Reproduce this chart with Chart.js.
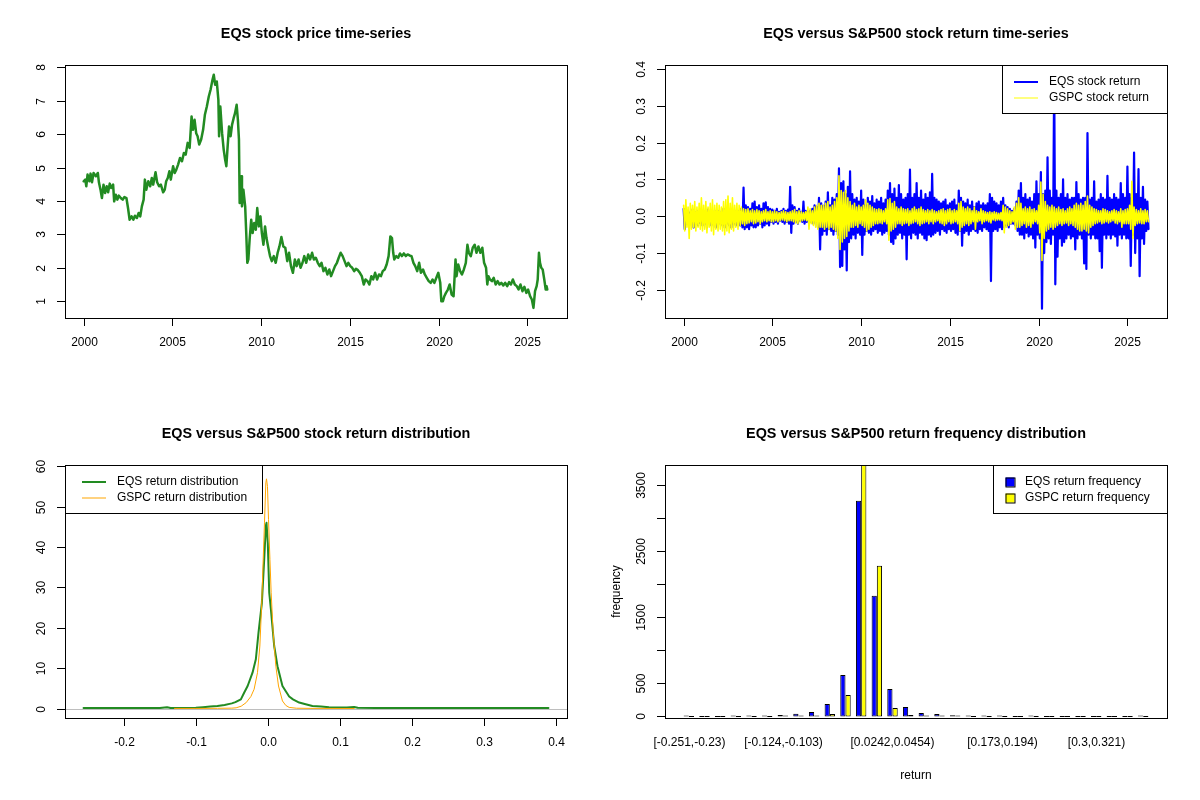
<!DOCTYPE html>
<html>
<head>
<meta charset="utf-8">
<title>EQS vs S&amp;P500</title>
<script src="https://cdn.jsdelivr.net/npm/chart.js@4.4.0/dist/chart.umd.min.js"></script>
<style>
  html, body { margin: 0; padding: 0; background: #fff; }
  #grid { display: grid; grid-template-columns: 600px 600px; grid-template-rows: 400px 400px; width: 1200px; height: 800px; }
  .panel { width: 600px; height: 400px; }
  canvas { display: block; }
</style>
</head>
<body>
<div id="grid">
  <div class="panel"><canvas id="priceChart" width="600" height="400"></canvas></div>
  <div class="panel"><canvas id="returnChart" width="600" height="400"></canvas></div>
  <div class="panel"><canvas id="densityChart" width="600" height="400"></canvas></div>
  <div class="panel"><canvas id="freqChart" width="600" height="400"></canvas></div>
</div>
<script>
// ---- EQS price ----
const priceYears = [
  2000.00,2000.09,2000.15,2000.22,2000.32,2000.39,2000.47,2000.56,2000.69,2000.80,2000.86,2000.95,
  2001.03,2001.12,2001.21,2001.30,2001.38,2001.47,2001.55,2001.66,2001.72,2001.81,2001.90,2001.98,
  2002.09,2002.20,2002.30,2002.41,2002.50,2002.59,2002.70,2002.80,2002.89,2003.00,2003.10,2003.19,
  2003.28,2003.38,2003.45,2003.53,2003.64,2003.75,2003.84,2003.92,2004.05,2004.14,2004.25,2004.35,
  2004.48,2004.57,2004.65,2004.74,2004.83,2004.91,2005.04,2005.13,2005.22,2005.32,2005.43,2005.54,
  2005.65,2005.75,2005.86,2005.97,2006.08,2006.16,2006.25,2006.34,2006.42,2006.51,2006.62,2006.73,
  2006.83,2006.94,2007.05,2007.15,2007.26,2007.33,2007.41,2007.50,2007.59,2007.63,2007.70,2007.80,
  2007.89,2007.97,2008.04,2008.10,2008.19,2008.28,2008.36,2008.45,2008.53,2008.62,2008.69,2008.75,
  2008.79,2008.88,2008.92,2009.00,2009.10,2009.16,2009.22,2009.28,2009.35,2009.44,2009.52,2009.61,
  2009.70,2009.78,2009.87,2009.96,2010.04,2010.13,2010.22,2010.30,2010.39,2010.50,2010.60,2010.71,
  2010.82,2010.93,2011.03,2011.14,2011.25,2011.36,2011.47,2011.57,2011.68,2011.79,2011.90,2012.00,
  2012.11,2012.22,2012.33,2012.43,2012.54,2012.65,2012.76,2012.87,2012.97,2013.08,2013.19,2013.30,
  2013.40,2013.51,2013.62,2013.73,2013.84,2013.94,2014.05,2014.16,2014.27,2014.37,2014.48,2014.59,
  2014.70,2014.81,2014.91,2015.02,2015.13,2015.24,2015.34,2015.45,2015.56,2015.67,2015.78,2015.88,
  2015.99,2016.10,2016.21,2016.31,2016.42,2016.53,2016.64,2016.75,2016.85,2016.96,2017.07,2017.18,
  2017.28,2017.37,2017.44,2017.50,2017.61,2017.72,2017.82,2017.93,2018.04,2018.15,2018.25,2018.36,
  2018.47,2018.58,2018.68,2018.79,2018.90,2019.00,2019.12,2019.22,2019.33,2019.44,2019.55,2019.66,
  2019.76,2019.87,2019.98,2020.09,2020.15,2020.24,2020.32,2020.41,2020.52,2020.62,2020.73,2020.84,
  2020.95,2021.01,2021.10,2021.21,2021.31,2021.42,2021.53,2021.62,2021.70,2021.81,2021.92,2022.03,
  2022.13,2022.24,2022.35,2022.46,2022.56,2022.67,2022.74,2022.80,2022.89,2023.00,2023.10,2023.21,
  2023.32,2023.43,2023.53,2023.64,2023.75,2023.86,2023.97,2024.07,2024.18,2024.29,2024.40,2024.50,
  2024.61,2024.72,2024.83,2024.94,2025.04,2025.15,2025.25,2025.34,2025.43,2025.52,2025.58,2025.65,
  2025.71,2025.78,2025.86,2025.95,2026.03,2026.08,2026.12
];
const priceValues = [
  4.59,4.64,4.44,4.79,4.59,4.82,4.56,4.84,4.74,4.84,4.56,4.34,
  4.09,4.49,4.24,4.44,4.26,4.52,4.39,4.49,3.99,4.19,4.04,4.16,
  4.09,4.04,4.12,4.09,3.79,3.44,3.54,3.44,3.56,3.49,3.64,3.54,
  3.84,4.04,4.64,4.34,4.59,4.44,4.69,4.49,4.86,4.56,4.44,4.49,
  4.26,4.34,4.59,4.69,4.89,4.64,5.04,4.84,4.94,5.09,5.29,5.19,
  5.44,5.39,5.74,5.59,6.53,6.13,6.43,6.03,5.94,5.69,5.84,6.13,
  6.58,6.83,7.13,7.33,7.63,7.78,7.48,7.58,7.03,5.94,6.83,6.03,
  5.54,5.24,5.04,5.54,6.23,5.94,6.28,6.48,6.63,6.88,6.43,5.84,
  3.94,4.74,3.84,4.34,3.84,3.04,2.15,2.25,2.84,3.44,3.04,3.34,
  3.14,3.79,3.24,3.54,3.04,2.69,3.24,2.89,2.64,2.35,2.20,2.35,
  2.15,2.45,2.64,2.92,2.64,2.60,2.20,2.45,2.05,1.85,2.25,2.05,
  2.25,2.00,2.15,2.35,2.15,2.40,2.25,2.45,2.25,2.30,2.15,2.05,
  2.15,1.90,2.00,1.80,1.95,1.75,1.90,2.05,2.15,2.30,2.45,2.35,
  2.20,2.05,2.15,2.05,2.00,1.90,1.97,1.93,1.85,1.75,1.50,1.65,
  1.60,1.50,1.75,1.65,1.85,1.65,1.80,1.75,1.90,1.95,2.10,2.35,
  2.94,2.89,2.45,2.25,2.35,2.30,2.43,2.35,2.43,2.35,2.40,2.37,
  2.35,2.15,2.05,1.90,2.15,1.85,1.95,1.80,1.70,1.60,1.55,1.65,
  1.55,1.70,1.85,1.55,1.00,1.00,1.15,1.25,1.35,1.50,1.20,1.15,
  2.25,1.75,2.10,1.90,1.80,1.95,2.15,2.69,2.45,2.35,2.60,2.69,
  2.45,2.64,2.45,2.60,2.15,2.00,1.50,1.75,1.65,1.60,1.70,1.50,
  1.60,1.50,1.55,1.47,1.55,1.45,1.57,1.50,1.65,1.50,1.45,1.35,
  1.50,1.30,1.43,1.25,1.35,1.15,1.05,0.80,1.30,1.45,1.65,2.45,
  2.15,2.00,1.95,1.65,1.35,1.45,1.35
];

// ---- daily returns, summarised as high / low per 1/8 year, starting 2000.0 ----
const retStart = 2000;
const retStep = 0.125;
const eqsHigh = [
  0.02,0.012,0.015,0.01,0.018,0.012,0.015,0.01,
  0.012,0.015,0.01,0.018,0.012,0.01,0.015,0.012,
  0.015,0.01,0.02,0.012,0.015,0.018,0.01,0.015,
  0.012,0.015,0.02,0.078,0.03,0.025,0.02,0.035,
  0.04,0.025,0.03,0.02,0.035,0.038,0.025,0.02,
  0.018,0.015,0.02,0.012,0.015,0.02,0.015,0.018,
  0.08,0.03,0.025,0.015,0.02,0.012,0.04,0.015,
  0.012,0.015,0.02,0.03,0.025,0.05,0.035,0.028,
  0.04,0.065,0.03,0.05,0.045,0.06,0.13,0.09,
  0.095,0.06,0.08,0.122,0.06,0.045,0.05,0.04,
  0.07,0.045,0.03,0.05,0.04,0.055,0.035,0.045,
  0.04,0.05,0.035,0.045,0.07,0.09,0.06,0.075,
  0.05,0.085,0.06,0.045,0.05,0.06,0.127,0.05,
  0.06,0.09,0.05,0.07,0.045,0.06,0.05,0.065,
  0.115,0.05,0.045,0.04,0.035,0.04,0.045,0.03,
  0.035,0.04,0.045,0.03,0.07,0.05,0.04,0.035,
  0.045,0.03,0.04,0.025,0.035,0.04,0.03,0.035,
  0.03,0.035,0.06,0.05,0.04,0.035,0.03,0.04,
  0.05,0.03,0.025,0.02,0.015,0.02,0.04,0.07,
  0.09,0.05,0.06,0.045,0.05,0.04,0.06,0.095,
  0.06,0.12,0.06,0.07,0.16,0.07,0.05,0.384,
  0.07,0.05,0.06,0.1,0.05,0.06,0.045,0.05,
  0.05,0.093,0.06,0.045,0.05,0.05,0.226,0.045,
  0.05,0.095,0.04,0.045,0.06,0.05,0.045,0.11,
  0.05,0.045,0.06,0.05,0.045,0.09,0.06,0.05,
  0.135,0.06,0.05,0.173,0.06,0.128,0.05,0.08,
  0.045,0.04
];
const eqsLow = [
  -0.035,-0.02,-0.025,-0.015,-0.03,-0.02,-0.025,-0.018,
  -0.025,-0.02,-0.03,-0.015,-0.025,-0.02,-0.03,-0.02,
  -0.02,-0.025,-0.03,-0.02,-0.025,-0.03,-0.02,-0.025,
  -0.02,-0.025,-0.03,-0.035,-0.03,-0.035,-0.025,-0.03,
  -0.03,-0.025,-0.02,-0.03,-0.025,-0.02,-0.025,-0.015,
  -0.02,-0.015,-0.02,-0.012,-0.015,-0.02,-0.015,-0.02,
  -0.045,-0.02,-0.015,-0.02,-0.012,-0.015,-0.02,-0.015,
  -0.012,-0.015,-0.02,-0.015,-0.03,-0.09,-0.05,-0.04,
  -0.05,-0.035,-0.04,-0.05,-0.04,-0.05,-0.138,-0.135,
  -0.09,-0.147,-0.07,-0.06,-0.05,-0.06,-0.045,-0.05,
  -0.105,-0.05,-0.04,-0.045,-0.05,-0.04,-0.035,-0.045,
  -0.04,-0.05,-0.045,-0.04,-0.05,-0.07,-0.075,-0.06,
  -0.05,-0.045,-0.06,-0.05,-0.117,-0.05,-0.06,-0.045,
  -0.05,-0.06,-0.045,-0.05,-0.06,-0.065,-0.05,-0.055,
  -0.05,-0.045,-0.04,-0.05,-0.035,-0.04,-0.045,-0.035,
  -0.04,-0.035,-0.045,-0.05,-0.04,-0.08,-0.045,-0.04,
  -0.05,-0.04,-0.035,-0.04,-0.045,-0.035,-0.04,-0.03,
  -0.035,-0.04,-0.176,-0.04,-0.035,-0.04,-0.03,-0.035,
  -0.03,-0.025,-0.03,-0.02,-0.02,-0.025,-0.04,-0.05,
  -0.05,-0.06,-0.045,-0.055,-0.05,-0.06,-0.085,-0.05,
  -0.06,-0.251,-0.1,-0.07,-0.06,-0.075,-0.05,-0.185,
  -0.11,-0.06,-0.08,-0.07,-0.06,-0.05,-0.06,-0.055,
  -0.09,-0.06,-0.05,-0.06,-0.128,-0.143,-0.05,-0.06,
  -0.05,-0.06,-0.06,-0.095,-0.14,-0.05,-0.06,-0.05,
  -0.06,-0.05,-0.055,-0.08,-0.05,-0.06,-0.05,-0.06,
  -0.06,-0.135,-0.05,-0.1,-0.06,-0.163,-0.06,-0.075,
  -0.04,-0.035
];
const gspcHigh = [
  0.03,0.045,0.025,0.035,0.03,0.04,0.025,0.035,
  0.05,0.03,0.04,0.025,0.035,0.045,0.03,0.035,
  0.03,0.025,0.04,0.045,0.055,0.035,0.05,0.03,
  0.035,0.03,0.025,0.02,0.018,0.02,0.015,0.018,
  0.015,0.018,0.015,0.012,0.015,0.018,0.012,0.015,
  0.012,0.015,0.012,0.01,0.012,0.015,0.012,0.01,
  0.012,0.015,0.018,0.012,0.015,0.012,0.01,0.012,
  0.025,0.02,0.015,0.025,0.03,0.035,0.03,0.03,
  0.035,0.04,0.025,0.03,0.04,0.05,0.11,0.07,
  0.065,0.07,0.05,0.04,0.03,0.035,0.025,0.03,
  0.025,0.03,0.045,0.035,0.03,0.025,0.02,0.018,
  0.02,0.018,0.015,0.02,0.045,0.048,0.035,0.04,
  0.025,0.02,0.025,0.02,0.018,0.02,0.015,0.02,
  0.025,0.018,0.02,0.025,0.018,0.015,0.018,0.015,
  0.018,0.015,0.012,0.015,0.018,0.02,0.015,0.018,
  0.02,0.015,0.018,0.015,0.035,0.04,0.025,0.02,
  0.025,0.02,0.015,0.025,0.015,0.012,0.02,0.015,
  0.012,0.01,0.012,0.01,0.012,0.01,0.008,0.01,
  0.03,0.025,0.02,0.015,0.012,0.025,0.035,0.05,
  0.035,0.02,0.025,0.02,0.025,0.018,0.02,0.015,
  0.03,0.093,0.06,0.04,0.03,0.025,0.03,0.025,
  0.02,0.025,0.018,0.02,0.015,0.02,0.025,0.02,
  0.03,0.035,0.03,0.035,0.03,0.04,0.055,0.03,
  0.025,0.02,0.018,0.015,0.015,0.02,0.018,0.015,
  0.012,0.015,0.018,0.015,0.012,0.02,0.015,0.018,
  0.02,0.03,0.095,0.025,0.018,0.015,0.02,0.015,
  0.018,0.015
];
const gspcLow = [
  -0.04,-0.03,-0.06,-0.035,-0.03,-0.04,-0.03,-0.035,
  -0.04,-0.035,-0.045,-0.03,-0.04,-0.05,-0.035,-0.04,
  -0.035,-0.04,-0.05,-0.04,-0.045,-0.035,-0.04,-0.03,
  -0.035,-0.025,-0.02,-0.025,-0.02,-0.018,-0.015,-0.02,
  -0.018,-0.015,-0.02,-0.015,-0.012,-0.015,-0.012,-0.015,
  -0.015,-0.012,-0.015,-0.012,-0.01,-0.012,-0.015,-0.012,
  -0.012,-0.015,-0.018,-0.02,-0.015,-0.012,-0.01,-0.012,
  -0.035,-0.02,-0.025,-0.03,-0.035,-0.03,-0.03,-0.035,
  -0.03,-0.035,-0.03,-0.035,-0.04,-0.06,-0.09,-0.07,
  -0.06,-0.055,-0.04,-0.03,-0.03,-0.025,-0.03,-0.02,
  -0.025,-0.03,-0.04,-0.035,-0.03,-0.025,-0.02,-0.02,
  -0.018,-0.02,-0.015,-0.02,-0.065,-0.04,-0.035,-0.03,
  -0.02,-0.02,-0.025,-0.02,-0.018,-0.025,-0.02,-0.018,
  -0.015,-0.02,-0.025,-0.02,-0.018,-0.015,-0.02,-0.015,
  -0.02,-0.015,-0.012,-0.018,-0.02,-0.025,-0.02,-0.015,
  -0.02,-0.018,-0.015,-0.02,-0.04,-0.03,-0.025,-0.02,
  -0.025,-0.02,-0.015,-0.035,-0.015,-0.012,-0.02,-0.015,
  -0.012,-0.015,-0.018,-0.01,-0.012,-0.01,-0.01,-0.012,
  -0.045,-0.03,-0.025,-0.02,-0.015,-0.035,-0.03,-0.03,
  -0.025,-0.02,-0.03,-0.025,-0.03,-0.02,-0.015,-0.02,
  -0.045,-0.12,-0.06,-0.04,-0.035,-0.03,-0.035,-0.03,
  -0.025,-0.02,-0.025,-0.02,-0.018,-0.025,-0.02,-0.025,
  -0.03,-0.035,-0.04,-0.04,-0.035,-0.04,-0.045,-0.03,
  -0.025,-0.02,-0.018,-0.015,-0.02,-0.018,-0.015,-0.018,
  -0.015,-0.012,-0.018,-0.02,-0.015,-0.03,-0.02,-0.02,
  -0.02,-0.035,-0.06,-0.025,-0.02,-0.018,-0.02,-0.02,
  -0.015,-0.015
];

// ---- return densities ----
const eqsDensX = [-0.256,-0.2,-0.15,-0.14,-0.135,-0.1,-0.09,-0.08,-0.07,-0.06,-0.05,-0.045,-0.0374,-0.0327,-0.028,
  -0.0212,-0.0166,-0.0129,-0.0082,-0.005,-0.0027,-0.0018,0.0,0.002,0.0043,0.0089,0.0135,0.0204,0.025,0.0297,
  0.035,0.0436,0.05,0.062,0.074,0.085,0.1,0.11,0.12,0.125,0.15,0.2,0.3,0.39];
const eqsDensY = [0.15,0.15,0.15,0.35,0.15,0.2,0.35,0.5,0.65,0.9,1.3,1.6,2.3,4.0,5.6,
  8.9,12.2,18.8,26.2,36.9,45.2,46.0,41.0,28.7,24.6,15.5,10.5,5.6,4.3,3.0,
  2.3,1.5,1.2,0.65,0.5,0.35,0.3,0.25,0.4,0.2,0.15,0.15,0.15,0.15];
const gspcDensX = [-0.13,-0.1,-0.07,-0.05,-0.044,-0.037,-0.03,-0.0235,-0.019,-0.0143,-0.011,-0.0082,-0.0064,-0.0046,
  -0.0027,-0.0018,-0.0004,0.001,0.003,0.0047,0.0075,0.0112,0.0149,0.0204,0.025,0.0297,0.04,0.06,0.12];
const gspcDensY = [0.05,0.05,0.08,0.12,0.2,0.6,1.5,3.0,4.8,8.9,15.5,27.0,36.9,46.0,
  55.9,56.9,55.0,46.8,36.9,28.7,18.8,10.5,5.6,1.9,0.8,0.3,0.1,0.06,0.03];

// ---- return frequency histogram (30 bins) ----
const binLabels = [
  '[-0.251,-0.23)','[-0.23,-0.209)','[-0.209,-0.188)','[-0.188,-0.166)','[-0.166,-0.145)','[-0.145,-0.124)',
  '[-0.124,-0.103)','[-0.103,-0.0817)','[-0.0817,-0.0605)','[-0.0605,-0.0393)','[-0.0393,-0.0182)','[-0.0182,0.003)',
  '[0.003,0.0242)','[0.0242,0.0454)','[0.0454,0.0665)','[0.0665,0.0877)','[0.0877,0.109)','[0.109,0.13)',
  '[0.13,0.151)','[0.151,0.173)','[0.173,0.194)','[0.194,0.215)','[0.215,0.236)','[0.236,0.257)',
  '[0.257,0.279)','[0.279,0.3)','[0.3,0.321)','[0.321,0.342)','[0.342,0.363)','[0.363,0.384]'
];
const shownBinLabels = [0, 6, 13, 20, 26];
const eqsFreq  = [1,0,0,1,5,15,20,40,65,186,624,3258,1823,413,141,50,35,18,6,3,1,0,1,0,0,0,0,0,0,1];
const gspcFreq = [0,0,0,0,0,0,2,4,12,35,322,3850,2276,126,20,8,5,2,0,0,0,0,0,0,0,0,0,0,0,0];

// ---- axis ticks and labels ----
const yearTicks = [2000, 2005, 2010, 2015, 2020, 2025];
const yearLabels = ['2000', '2005', '2010', '2015', '2020', '2025'];
const priceTicks = [1, 2, 3, 4, 5, 6, 7, 8];
const priceLabels = ['1', '2', '3', '4', '5', '6', '7', '8'];
const returnTicks = [-0.2, -0.1, 0, 0.1, 0.2, 0.3, 0.4];
const returnLabels = ['-0.2', '-0.1', '0.0', '0.1', '0.2', '0.3', '0.4'];
const densXTicks = [-0.2, -0.1, 0, 0.1, 0.2, 0.3, 0.4];
const densXLabels = ['-0.2', '-0.1', '0.0', '0.1', '0.2', '0.3', '0.4'];
const densYTicks = [0, 10, 20, 30, 40, 50, 60];
const densYLabels = ['0', '10', '20', '30', '40', '50', '60'];
const freqTicks = [0, 500, 1000, 1500, 2000, 2500, 3000, 3500];
const freqLabels = ['0', '500', '', '1500', '', '2500', '', '3500'];

const FONT = '"Liberation Sans", Arial, Helvetica, sans-serif';
const PAD = { left: 65, top: 65, right: 33, bottom: 82 };

/**
 * Base-R look: boxed plot, outward ticks, rotated y labels, boxed legend
 */
function rStyle(cfg) {
    return {
        id: 'rStyle',
        beforeDatasetsDraw(chart) {
            if (!cfg.zeroLine) return;
            const a = chart.chartArea, ctx = chart.ctx;
            const y = Math.round(chart.scales.y.getPixelForValue(0)) + 0.5;
            ctx.save();
            ctx.strokeStyle = cfg.zeroLine;
            ctx.lineWidth = 1;
            ctx.beginPath(); ctx.moveTo(a.left, y); ctx.lineTo(a.right, y); ctx.stroke();
            ctx.restore();
        },
        afterDraw(chart) {
            const ctx = chart.ctx, a = chart.chartArea;
            const xs = chart.scales.x, ys = chart.scales.y;
            ctx.save();
            ctx.strokeStyle = '#000';
            ctx.fillStyle = '#000';
            ctx.lineWidth = 1;

            // title
            ctx.font = 'bold 14.4px ' + FONT;
            ctx.textAlign = 'center';
            ctx.textBaseline = 'middle';
            ctx.fillText(cfg.title, (a.left + a.right) / 2, 34);

            // x axis
            ctx.font = '12px ' + FONT;
            cfg.xTicks.forEach((v, i) => {
                const px = Math.round(xs.getPixelForValue(v)) + 0.5;
                if (cfg.xTickMarks !== false) {
                    ctx.beginPath(); ctx.moveTo(px, a.bottom); ctx.lineTo(px, a.bottom + 8); ctx.stroke();
                }
                if (cfg.xLabels[i]) ctx.fillText(cfg.xLabels[i], px, a.bottom + 25);
            });

            // y axis
            cfg.yTicks.forEach((v, i) => {
                const py = Math.round(ys.getPixelForValue(v)) + 0.5;
                ctx.beginPath(); ctx.moveTo(a.left - 8, py); ctx.lineTo(a.left, py); ctx.stroke();
                if (cfg.yLabels[i]) {
                    ctx.save();
                    ctx.translate(a.left - 23.5, py);
                    ctx.rotate(-Math.PI / 2);
                    ctx.fillText(cfg.yLabels[i], 0, 0);
                    ctx.restore();
                }
            });

            if (cfg.xTitle) ctx.fillText(cfg.xTitle, (a.left + a.right) / 2, a.bottom + 58);
            if (cfg.yTitle) {
                ctx.save();
                ctx.translate(17, (a.top + a.bottom) / 2);
                ctx.rotate(-Math.PI / 2);
                ctx.fillText(cfg.yTitle, 0, 0);
                ctx.restore();
            }

            // legend box
            const L = cfg.legend;
            if (L) {
                ctx.fillStyle = '#fff';
                ctx.fillRect(L.left, L.top, L.right - L.left, L.bottom - L.top);
                ctx.strokeStyle = '#000';
                ctx.strokeRect(L.left + 0.5, L.top + 0.5, L.right - L.left, L.bottom - L.top);
                ctx.textAlign = 'left';
                L.items.forEach((it, k) => {
                    const y = L.rowY[k];
                    if (it.box) {
                        ctx.fillStyle = it.color;
                        ctx.fillRect(L.markX - 4.5, y - 4.5, 9, 9);
                        ctx.strokeStyle = '#000';
                        ctx.lineWidth = 1;
                        ctx.strokeRect(L.markX - 4.5 + 0.5, y - 4.5 + 0.5, 9, 9);
                    } else {
                        ctx.strokeStyle = it.color;
                        ctx.lineWidth = it.width;
                        ctx.beginPath(); ctx.moveTo(L.lineX0, y); ctx.lineTo(L.lineX1, y); ctx.stroke();
                        ctx.lineWidth = 1;
                    }
                    ctx.fillStyle = '#000';
                    ctx.fillText(it.label, L.textX, y);
                });
            }

            // plot box
            ctx.strokeStyle = '#000';
            ctx.lineWidth = 1;
            ctx.strokeRect(a.left + 0.5, a.top + 0.5, a.right - a.left, a.bottom - a.top);
            ctx.restore();
        }
    };
}

function baseOptions(xMin, xMax, yMin, yMax) {
    return {
        responsive: false,
        animation: false,
        events: [],
        layout: { padding: PAD },
        plugins: { legend: { display: false }, tooltip: { enabled: false }, title: { display: false } },
        scales: {
            x: { type: 'linear', display: false, min: xMin, max: xMax, offset: false },
            y: { type: 'linear', display: false, min: yMin, max: yMax }
        }
    };
}

function pairs(xs, ys) {
    return xs.map((x, i) => ({ x: x, y: ys[i] }));
}

function zigzag(highs, lows) {
    const pts = [];
    highs.forEach((h, i) => {
        const t = retStart + i * retStep;
        pts.push({ x: t, y: h });
        pts.push({ x: t + retStep / 2, y: lows[i] });
    });
    return pts;
}

const lineStyle = { pointRadius: 0, tension: 0, borderJoinStyle: 'round', borderCapStyle: 'round' };

// top left: price series
new Chart(document.getElementById('priceChart'), {
    type: 'line',
    data: {
        datasets: [Object.assign({
            label: 'EQS price',
            data: pairs(priceYears, priceValues),
            borderColor: '#228B22',
            borderWidth: 2.5
        }, lineStyle)]
    },
    options: baseOptions(1998.95, 2027.23, 0.497, 8.072),
    plugins: [rStyle({
        title: 'EQS stock price time-series',
        xTicks: yearTicks, xLabels: yearLabels,
        yTicks: priceTicks, yLabels: priceLabels
    })]
});

// top right: return series
new Chart(document.getElementById('returnChart'), {
    type: 'line',
    data: {
        datasets: [
            Object.assign({
                label: 'EQS stock return',
                data: zigzag(eqsHigh, eqsLow),
                borderColor: '#0000FF',
                borderWidth: 2.2,
                order: 2
            }, lineStyle),
            Object.assign({
                label: 'GSPC stock return',
                data: zigzag(gspcHigh, gspcLow),
                borderColor: '#FFFF00',
                borderWidth: 1.6,
                order: 1
            }, lineStyle)
        ]
    },
    options: baseOptions(1998.95, 2027.23, -0.2764, 0.411),
    plugins: [rStyle({
        title: 'EQS versus S&P500 stock return time-series',
        xTicks: yearTicks, xLabels: yearLabels,
        yTicks: returnTicks, yLabels: returnLabels,
        legend: {
            left: 402, right: 567, top: 65, bottom: 113,
            lineX0: 414, lineX1: 438, textX: 449, rowY: [82, 98],
            items: [
                { label: 'EQS stock return', color: '#0000FF', width: 2 },
                { label: 'GSPC stock return', color: '#FFFF00', width: 1 }
            ]
        }
    })]
});

// bottom left: densities
new Chart(document.getElementById('densityChart'), {
    type: 'line',
    data: {
        datasets: [
            Object.assign({
                label: 'EQS return distribution',
                data: pairs(eqsDensX, eqsDensY),
                borderColor: '#228B22',
                borderWidth: 2,
                order: 2
            }, lineStyle),
            Object.assign({
                label: 'GSPC return distribution',
                data: pairs(gspcDensX, gspcDensY),
                borderColor: '#FFA500',
                borderWidth: 1,
                order: 1
            }, lineStyle)
        ]
    },
    options: baseOptions(-0.2818, 0.4158, -2.32, 60.32),
    plugins: [rStyle({
        title: 'EQS versus S&P500 stock return distribution',
        xTicks: densXTicks, xLabels: densXLabels,
        yTicks: densYTicks, yLabels: densYLabels,
        zeroLine: '#BEBEBE',
        legend: {
            left: 65, right: 262, top: 65, bottom: 113,
            lineX0: 82, lineX1: 106, textX: 117, rowY: [82, 98],
            items: [
                { label: 'EQS return distribution', color: '#228B22', width: 2 },
                { label: 'GSPC return distribution', color: '#FFA500', width: 1 }
            ]
        }
    })]
});

// bottom right: frequency bars
const barStyle = {
    borderColor: '#000',
    borderWidth: 1,
    borderSkipped: false,
    minBarLength: 1,
    categoryPercentage: 2 / 3,
    barPercentage: 1,
    clip: 0
};
new Chart(document.getElementById('freqChart'), {
    type: 'bar',
    data: {
        datasets: [
            Object.assign({
                label: 'EQS return frequency',
                data: eqsFreq.map((v, i) => ({ x: i, y: v })),
                backgroundColor: '#0000FF'
            }, barStyle),
            Object.assign({
                label: 'GSPC return frequency',
                data: gspcFreq.map((v, i) => ({ x: i, y: v })),
                backgroundColor: '#FFFF00'
            }, barStyle)
        ]
    },
    options: baseOptions(-1.52, 30.52, -24, 3797),
    plugins: [rStyle({
        title: 'EQS versus S&P500 return frequency distribution',
        xTicks: shownBinLabels, xLabels: shownBinLabels.map(i => binLabels[i]),
        xTickMarks: false,
        yTicks: freqTicks, yLabels: freqLabels,
        xTitle: 'return', yTitle: 'frequency',
        legend: {
            left: 393, right: 567, top: 65, bottom: 113,
            markX: 410, textX: 425, rowY: [82, 98],
            items: [
                { label: 'EQS return frequency', color: '#0000FF', box: true },
                { label: 'GSPC return frequency', color: '#FFFF00', box: true }
            ]
        }
    })]
});
</script>
</body>
</html>
